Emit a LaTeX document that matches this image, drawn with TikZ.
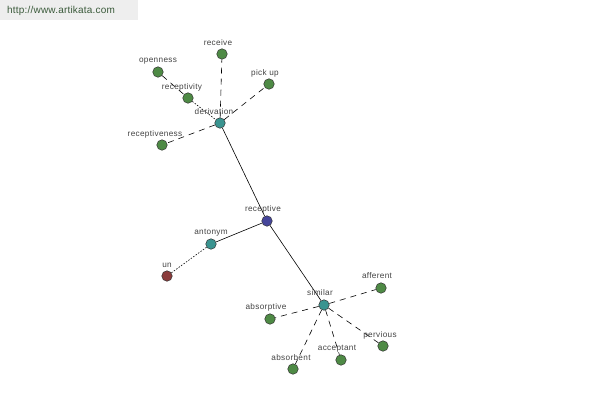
\documentclass[tikz,border=0pt]{standalone}
\usepackage{fontspec}
\setmainfont{Liberation Sans}
\definecolor{gnode}{HTML}{4E8A45}
\definecolor{tnode}{HTML}{3A9490}
\definecolor{bnode}{HTML}{45459A}
\definecolor{rnode}{HTML}{8A3B3B}
\definecolor{lbl}{HTML}{444444}
\definecolor{hdrbg}{HTML}{EEEEEE}
\definecolor{hdrtx}{HTML}{3A5A3A}
\begin{document}
\begin{tikzpicture}[x=1pt,y=-1pt,
  dot/.style={circle,draw=black!80,line width=0.5pt,minimum size=10.5pt,inner sep=0pt},
  gdot/.style={dot,fill=gnode},
  tdot/.style={dot,fill=tnode},
  bdot/.style={dot,fill=bnode},
  rdot/.style={dot,fill=rnode},
  lab/.style={font=\fontsize{8.2}{9}\selectfont\addfontfeatures{LetterSpace=4},text=lbl,inner sep=0pt},
  solidedge/.style={draw=black,line width=0.6pt},
  dashededge/.style={draw=black,line width=0.6pt,dash pattern=on 6pt off 5pt},
  dottededge/.style={draw=black,line width=0.6pt,dash pattern=on 1.5pt off 1.5pt}]
\useasboundingbox (0,0) rectangle (600,400);
\fill[white] (0,0) rectangle (600,400);
\fill[hdrbg] (0,0) rectangle (138,20);
\node[anchor=west,inner sep=0pt,text=hdrtx,font=\fontsize{10}{12}\selectfont\addfontfeatures{LetterSpace=2}] (hdr) at (7,11) {http://www.artikata.com};
% nodes
\node[gdot] (receive) at (222,54) {};
\node[gdot] (openness) at (158,72) {};
\node[gdot] (receptivity) at (188,98) {};
\node[gdot] (pickup) at (269,84) {};
\node[tdot] (derivation) at (220,123) {};
\node[gdot] (receptiveness) at (162,145) {};
\node[bdot] (receptive) at (267,221) {};
\node[tdot] (antonym) at (211,244) {};
\node[rdot] (un) at (167,276) {};
\node[tdot] (similar) at (324,305) {};
\node[gdot] (afferent) at (381,288) {};
\node[gdot] (absorptive) at (270,319) {};
\node[gdot] (pervious) at (383,346) {};
\node[gdot] (acceptant) at (341,360) {};
\node[gdot] (absorbent) at (293,369) {};
% edges
\path[solidedge] (derivation) -- (receptive);
\path[solidedge] (receptive) -- (antonym);
\path[solidedge] (receptive) -- (similar);
\path[dottededge] (antonym) -- (un);
\path[dashededge] (derivation) -- (receive);
\path[dashededge] (openness) -- (receptivity);
\path[dottededge] (receptivity) -- (derivation);
\path[dashededge] (derivation) -- (pickup);
\path[dashededge] (derivation) -- (receptiveness);
\path[dashededge] (similar) -- (afferent);
\path[dashededge] (similar) -- (absorptive);
\path[dashededge] (similar) -- (pervious);
\path[dashededge] (similar) -- (acceptant);
\path[dashededge] (similar) -- (absorbent);
% labels
\node[lab] (lreceive) at (218,43) {receive};
\node[lab] (lopenness) at (158,61) {openness};
\node[lab] (lreceptivity) at (182,87) {receptivity};
\node[lab] (lpickup) at (265,73) {pick up};
\node[lab] (lderivation) at (214,112) {derivation};
\node[lab] (lreceptiveness) at (155,134) {receptiveness};
\node[lab] (lreceptive) at (263,209) {receptive};
\node[lab] (lantonym) at (211,233) {antonym};
\node[lab] (lun) at (167,265) {un};
\node[lab] (lsimilar) at (320,293) {similar};
\node[lab] (lafferent) at (377,276) {afferent};
\node[lab] (labsorptive) at (266,307) {absorptive};
\node[lab] (lpervious) at (380,335) {pervious};
\node[lab] (lacceptant) at (337,349) {acceptant};
\node[lab] (labsorbent) at (291,358) {absorbent};
\end{tikzpicture}
\end{document}
